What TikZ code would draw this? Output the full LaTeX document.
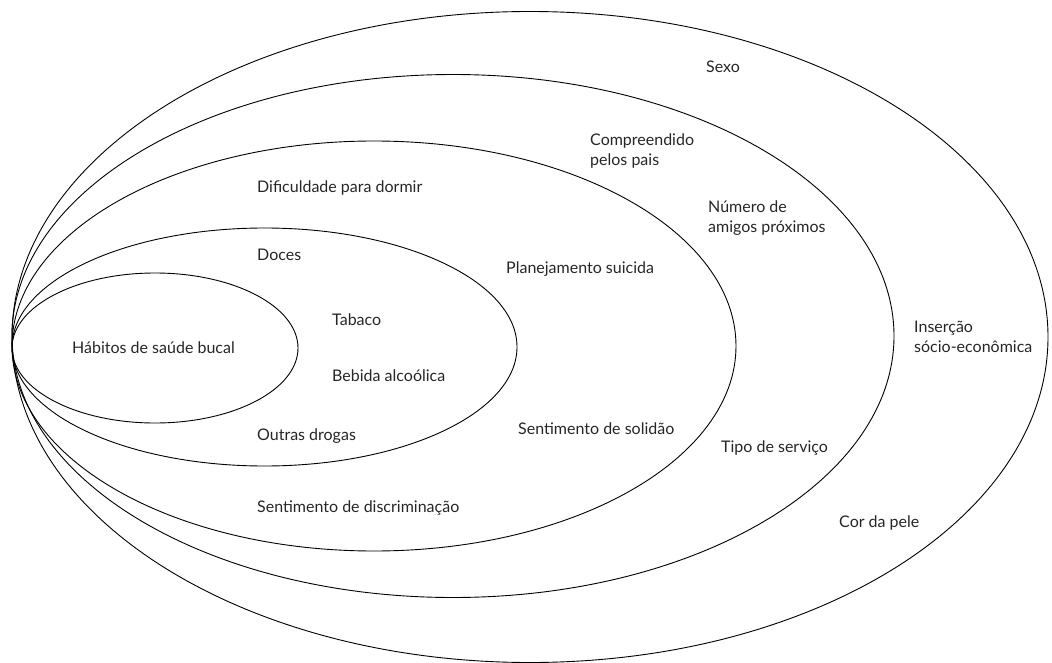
\documentclass[tikz,border=0pt]{standalone}
\usepackage{fontspec}
\setmainfont{Lato}
\begin{document}
\begin{tikzpicture}[x=1pt,y=-1pt,
  ring/.style={line width=0.9pt, black},
  lbl/.style={anchor=west, inner sep=0pt, font=\fontsize{16}{20}\selectfont, text=black!85, align=left}]
\useasboundingbox (0,0) rectangle (1052,663);
% nested ellipses (all tangent at the left)
\draw[ring] (530,337) ellipse [x radius=518pt, y radius=325.5pt];
\draw[ring] (453,336) ellipse [x radius=441pt, y radius=261.5pt];
\draw[ring] (374,346) ellipse [x radius=362pt, y radius=205pt];
\draw[ring] (264.5,347) ellipse [x radius=252.5pt, y radius=119pt];
\draw[ring] (155,348) ellipse [x radius=143pt, y radius=75pt];
% labels
\node[lbl] (sexo) at (706,67) {Sexo};
\node[lbl] (comp) at (590,151) {Compreendido\\pelos pais};
\node[lbl] (num) at (708,218) {Número de\\amigos próximos};
\node[lbl] (dif) at (257,188) {Dificuldade para dormir};
\node[lbl] (doces) at (257,255) {Doces};
\node[lbl] (plan) at (506,269) {Planejamento suicida};
\node[lbl] (tab) at (332,320) {Tabaco};
\node[lbl] (hab) at (72,348) {Hábitos de saúde bucal};
\node[lbl] (beb) at (332,376) {Bebida alcoólica};
\node[lbl] (outras) at (257,436) {Outras drogas};
\node[lbl] (sol) at (518,429) {Sentimento de solidão};
\node[lbl] (tipo) at (721,448) {Tipo de serviço};
\node[lbl] (disc) at (257,508) {Sentimento de discriminação};
\node[lbl] (ins) at (914,337) {Inserção\\sócio-econômica};
\node[lbl] (cor) at (839,523) {Cor da pele};
\end{tikzpicture}
\end{document}
